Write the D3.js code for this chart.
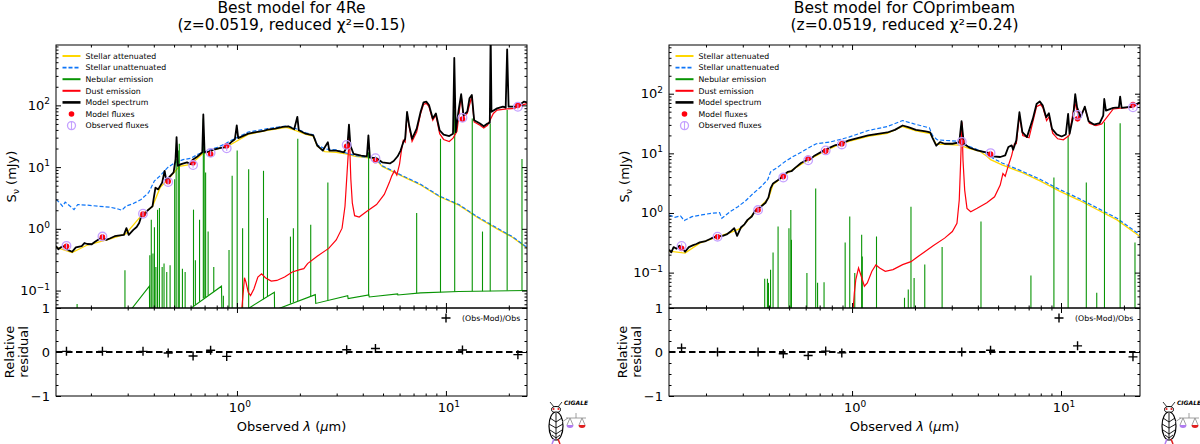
<!DOCTYPE html>
<html>
<head>
<meta charset="utf-8">
<script src="https://cdn.jsdelivr.net/npm/d3@7"></script>
<style>
  body { margin: 0; background: #fff; }
  text { font-family: "DejaVu Sans", sans-serif; }
</style>
</head>
<body>
<script>
// Dos paneles tipo CIGALE: espectro del mejor modelo + residuos relativos.
const WIDTH = 1200;
const HEIGHT = 444;
const TOP = 45, MID = 308, BOTTOM = 396;

const COLORS = {
  att: "#ffd700",
  unatt: "#0d75f8",
  neb: "#089404",
  dust: "#ff000d",
  model: "#000000",
  obs: "#c4a0ff",
};

// Longitudes de onda observadas de los filtros (µm)
const filterWave = [0.1528, 0.2271, 0.3551, 0.4686, 0.6166, 0.7480, 0.8932, 3.35, 4.60, 12.0, 22.1];

// Panel izquierdo (4Re): flujos en mJy
const obsFluxL = [0.53, 0.75, 1.76, 5.74, 10.8, 17.0, 20.2, 22.9, 13.9, 62.8, 95];
const obsErrL = [0.05, 0.07, 0.17, 0.55, 1.0, 1.6, 1.9, 2.2, 1.3, 6.0, 9.0];
const modFluxL = [0.522, 0.739, 1.73, 5.87, 11.8, 16.3, 22.2, 21.8, 12.8, 60.0, 100.7];
const residL = [0.015, 0.015, 0.015, -0.023, -0.09, 0.04, -0.10, 0.05, 0.08, 0.045, -0.06];

// Panel derecho (COprimbeam)
const obsFluxR = [0.28, 0.40, 1.12, 3.93, 7.65, 11.2, 14.1, 15.6, 10.1, 44.1, 59.1];
const obsErrR = [0.03, 0.04, 0.11, 0.38, 0.75, 1.1, 1.4, 1.5, 1.0, 4.4, 6.0];
const modFluxR = [0.255, 0.40, 1.12, 4.09, 8.26, 11.0, 14.4, 15.6, 9.7, 37.9, 65.6];
const residR = [0.09, 0.0, 0.0, -0.04, -0.08, 0.02, -0.02, 0.0, 0.04, 0.14, -0.11];

// Espectros: [log10 λ(µm), log10 Sν(mJy)]
const modelL = [[-0.866,-0.279],[-0.855,-0.330],[-0.844,-0.301],[-0.826,-0.279],[-0.807,-0.344],[-0.789,-0.372],[-0.771,-0.301],[-0.743,-0.279],[-0.730,-0.230],[-0.716,-0.246],[-0.695,-0.250],[-0.679,-0.208],[-0.646,-0.137],[-0.625,-0.180],[-0.606,-0.153],[-0.585,-0.120],[-0.569,-0.109],[-0.541,-0.098],[-0.529,0.011],[-0.518,-0.098],[-0.496,-0.016],[-0.480,0.030],[-0.468,0.093],[-0.454,0.246],[-0.440,0.230],[-0.432,0.284],[-0.413,0.339],[-0.404,0.366],[-0.398,0.500],[-0.390,0.667],[-0.377,0.639],[-0.358,0.749],[-0.346,0.940],[-0.338,0.776],[-0.322,0.847],[-0.303,0.913],[-0.294,1.131],[-0.289,1.486],[-0.283,1.022],[-0.267,1.049],[-0.239,1.077],[-0.221,1.049],[-0.212,1.120],[-0.194,1.158],[-0.175,1.213],[-0.166,1.240],[-0.161,1.852],[-0.155,1.240],[-0.133,1.251],[-0.111,1.284],[-0.083,1.306],[-0.051,1.322],[-0.029,1.400],[-0.010,1.450],[-0.001,1.677],[0.006,1.470],[0.054,1.541],[0.091,1.568],[0.127,1.585],[0.146,1.607],[0.182,1.623],[0.219,1.650],[0.246,1.661],[0.274,1.612],[0.289,1.814],[0.296,1.596],[0.329,1.541],[0.365,1.514],[0.384,1.350],[0.411,1.268],[0.435,1.404],[0.442,1.268],[0.475,1.268],[0.512,1.240],[0.521,1.295],[0.530,1.404],[0.536,1.689],[0.543,1.350],[0.558,1.213],[0.594,1.186],[0.622,1.175],[0.629,1.514],[0.636,1.158],[0.668,1.142],[0.695,1.077],[0.732,1.060],[0.750,1.098],[0.769,1.175],[0.783,1.268],[0.796,1.404],[0.805,1.459],[0.814,1.896],[0.824,1.677],[0.838,1.459],[0.860,1.623],[0.879,1.896],[0.893,2.049],[0.906,2.060],[0.919,2.005],[0.937,1.787],[0.952,1.869],[0.970,1.596],[0.989,1.525],[1.016,1.503],[1.034,1.541],[1.040,2.770],[1.047,1.568],[1.062,1.951],[1.073,2.180],[1.084,1.841],[1.102,1.896],[1.113,2.115],[1.124,2.169],[1.135,1.760],[1.163,1.705],[1.181,1.661],[1.199,1.705],[1.210,1.720],[1.214,3.200],[1.218,1.896],[1.245,1.951],[1.273,1.978],[1.286,1.962],[1.293,2.907],[1.300,1.978],[1.328,1.978],[1.355,2.016],[1.373,2.060],[1.388,2.049]];

const unattL = [[-0.866,0.475],[-0.848,0.421],[-0.835,0.366],[-0.822,0.432],[-0.798,0.366],[-0.780,0.311],[-0.762,0.393],[-0.716,0.383],[-0.661,0.366],[-0.606,0.350],[-0.569,0.322],[-0.551,0.301],[-0.532,0.366],[-0.496,0.410],[-0.459,0.475],[-0.423,0.585],[-0.395,0.776],[-0.368,0.858],[-0.331,0.995],[-0.294,1.077],[-0.258,1.120],[-0.221,1.142],[-0.184,1.213],[-0.138,1.268],[-0.093,1.322],[-0.056,1.377],[-0.029,1.430],[0.054,1.568],[0.146,1.623],[0.237,1.667],[0.274,1.634],[0.329,1.557],[0.365,1.525],[0.384,1.361],[0.420,1.295],[0.475,1.279],[0.521,1.230],[0.567,1.186],[0.622,1.158],[0.664,1.142],[0.695,1.022],[0.787,0.869],[0.879,0.721],[0.970,0.530],[1.062,0.393],[1.153,0.191],[1.245,0.011],[1.318,-0.126],[1.388,-0.301]];

const attL = [[-0.866,-0.301],[-0.789,-0.383],[-0.716,-0.262],[-0.606,-0.164],[-0.532,-0.082],[-0.454,0.229],[-0.404,0.366],[-0.368,0.667],[-0.322,0.831],[-0.276,1.011],[-0.221,1.044],[-0.166,1.213],[-0.093,1.295],[-0.029,1.366],[0.054,1.530],[0.146,1.596],[0.237,1.645],[0.274,1.601],[0.329,1.530],[0.365,1.503],[0.384,1.339],[0.420,1.251],[0.475,1.240],[0.521,1.213],[0.567,1.175],[0.622,1.153],[0.664,1.131],[0.695,1.011],[0.787,0.858],[0.879,0.710],[0.970,0.519],[1.062,0.383],[1.153,0.180],[1.245,0.000],[1.318,-0.137],[1.388,-0.312]];

const dustL = [[0.021,-1.383],[0.028,-1.109],[0.036,-0.792],[0.043,-0.863],[0.054,-1.027],[0.065,-1.082],[0.081,-0.973],[0.100,-0.781],[0.118,-0.727],[0.136,-0.792],[0.164,-0.847],[0.191,-0.836],[0.228,-0.781],[0.265,-0.699],[0.301,-0.661],[0.320,-0.645],[0.338,-0.563],[0.384,-0.443],[0.439,-0.317],[0.475,-0.180],[0.503,0.011],[0.517,0.366],[0.527,0.913],[0.534,1.295],[0.536,1.650],[0.540,1.295],[0.545,0.803],[0.552,0.421],[0.563,0.213],[0.585,0.191],[0.622,0.284],[0.668,0.393],[0.705,0.557],[0.729,0.749],[0.741,0.858],[0.754,0.940],[0.765,0.869],[0.778,1.049],[0.787,1.268],[0.796,1.432],[0.805,1.404],[0.814,1.869],[0.824,1.650],[0.838,1.415],[0.860,1.568],[0.879,1.869],[0.893,2.016],[0.906,2.033],[0.919,1.978],[0.937,1.760],[0.952,1.841],[0.970,1.541],[0.989,1.448],[1.016,1.415],[1.034,1.470],[1.053,1.579],[1.073,2.158],[1.084,1.814],[1.102,1.869],[1.124,2.148],[1.135,1.732],[1.163,1.678],[1.181,1.634],[1.199,1.678],[1.227,1.869],[1.245,1.923],[1.282,1.940],[1.328,1.951],[1.355,1.995],[1.388,2.027]];

const nebContL = [[-0.587,-1.82],[-0.505,-1.300],[-0.419,-0.929],[-0.417,-1.765],[-0.226,-1.300],[-0.074,-0.929],[-0.071,-1.563],[0.050,-1.300],[0.179,-1.027],[0.180,-1.317],[0.375,-1.066],[0.377,-1.208],[0.530,-1.082],[0.532,-1.131],[0.631,-1.071],[0.633,-1.104],[0.769,-1.055],[0.770,-1.071],[0.879,-1.038],[1.062,-1.016],[1.388,-0.999]];

// Líneas nebulares: [log10 λ, log10 base, log10 pico]
const nebLinesL = [[-0.765,-1.8,-1.219],[-0.536,-1.8,-0.672],[-0.417,-1.8,-0.426],[-0.410,-1.8,0.148],[-0.402,-1.8,-0.399],[-0.395,-1.8,0.027],[-0.388,-1.8,-0.617],[-0.380,-1.8,0.311],[-0.371,-1.8,0.339],[-0.358,-1.8,-0.617],[-0.349,-1.8,-0.563],[-0.336,-1.8,-0.699],[-0.320,-1.8,-0.590],[-0.298,-1.8,0.803],[-0.291,-1.8,1.131],[-0.281,-1.8,1.268],[-0.276,-1.8,1.377],[-0.261,-1.8,-0.645],[-0.248,-1.8,-0.699],[-0.208,-1.26,0.311],[-0.199,-1.23,-0.508],[-0.179,-1.18,0.148],[-0.161,-1.13,1.787],[-0.157,-1.12,1.295],[-0.150,-1.11,0.913],[-0.138,-1.08,-0.044],[-0.111,-1.02,-0.617],[-0.065,-1.55,-1.082],[-0.038,-1.49,-0.344],[-0.023,-1.46,0.858],[0.001,-1.41,1.268],[0.027,-1.36,0.011],[0.056,-1.29,0.967],[0.127,-1.14,0.940],[0.146,-1.10,0.175],[0.256,-1.21,-0.126],[0.270,-1.19,0.011],[0.291,-1.17,1.459],[0.353,-1.09,0.066],[0.435,-1.16,0.749],[0.630,-1.075,1.240],[0.860,-1.04,0.257],[0.974,-1.03,1.459],[1.042,-1.02,1.923],[1.126,-1.01,1.787],[1.175,-1.01,-0.044],[1.212,-1.01,1.705],[1.293,-1.00,1.923],[1.364,-1.00,1.131]];

const modelR = [[-0.876,-0.616],[-0.865,-0.660],[-0.854,-0.572],[-0.840,-0.600],[-0.827,-0.550],[-0.812,-0.589],[-0.799,-0.650],[-0.781,-0.572],[-0.760,-0.540],[-0.745,-0.520],[-0.729,-0.494],[-0.700,-0.470],[-0.674,-0.427],[-0.651,-0.394],[-0.619,-0.383],[-0.600,-0.360],[-0.583,-0.316],[-0.564,-0.255],[-0.550,-0.383],[-0.531,-0.239],[-0.515,-0.190],[-0.500,-0.116],[-0.480,-0.060],[-0.464,0.039],[-0.436,0.106],[-0.414,0.172],[-0.400,0.261],[-0.390,0.411],[-0.378,0.495],[-0.359,0.539],[-0.339,0.595],[-0.308,0.689],[-0.290,0.700],[-0.271,0.761],[-0.244,0.839],[-0.220,0.884],[-0.200,0.900],[-0.180,0.961],[-0.134,1.050],[-0.106,1.095],[-0.079,1.139],[-0.061,1.150],[-0.015,1.217],[0.031,1.261],[0.077,1.300],[0.123,1.328],[0.169,1.350],[0.205,1.394],[0.242,1.467],[0.269,1.439],[0.306,1.394],[0.352,1.367],[0.374,1.350],[0.385,1.261],[0.403,1.128],[0.421,1.189],[0.443,1.161],[0.480,1.161],[0.513,1.183],[0.524,1.539],[0.535,1.161],[0.563,1.094],[0.599,1.050],[0.636,1.022],[0.654,1.006],[0.673,0.950],[0.709,0.939],[0.733,0.967],[0.748,1.106],[0.764,1.133],[0.771,1.061],[0.786,1.217],[0.801,1.689],[0.815,1.356],[0.837,1.272],[0.865,1.578],[0.883,1.828],[0.898,1.872],[0.913,1.800],[0.929,1.606],[0.942,1.672],[0.957,1.411],[0.979,1.317],[1.003,1.283],[1.023,1.317],[1.034,1.661],[1.041,1.328],[1.059,1.633],[1.068,1.994],[1.077,1.772],[1.094,1.606],[1.114,1.783],[1.132,1.539],[1.158,1.483],[1.185,1.506],[1.202,1.633],[1.207,1.911],[1.215,1.717],[1.250,1.761],[1.277,1.772],[1.283,1.950],[1.290,1.761],[1.338,1.783],[1.378,1.856]];

const unattR = [[-0.876,-0.033],[-0.848,-0.072],[-0.821,-0.050],[-0.803,-0.128],[-0.766,-0.061],[-0.720,-0.033],[-0.674,-0.005],[-0.634,0.006],[-0.623,-0.089],[-0.583,0.022],[-0.546,0.106],[-0.509,0.206],[-0.473,0.328],[-0.436,0.439],[-0.403,0.561],[-0.390,0.689],[-0.354,0.772],[-0.317,0.872],[-0.280,0.950],[-0.244,1.017],[-0.207,1.095],[-0.171,1.161],[-0.106,1.189],[-0.015,1.272],[0.077,1.383],[0.169,1.450],[0.242,1.550],[0.297,1.494],[0.370,1.428],[0.385,1.300],[0.407,1.228],[0.443,1.217],[0.498,1.206],[0.535,1.150],[0.590,1.078],[0.636,1.006],[0.654,0.967],[0.663,0.939],[0.718,0.839],[0.810,0.706],[0.902,0.561],[0.993,0.395],[1.085,0.245],[1.177,0.078],[1.268,-0.089],[1.378,-0.366]];

const attR = [[-0.876,-0.639],[-0.799,-0.672],[-0.729,-0.505],[-0.651,-0.411],[-0.583,-0.328],[-0.531,-0.255],[-0.464,0.022],[-0.400,0.245],[-0.378,0.478],[-0.308,0.672],[-0.220,0.867],[-0.134,1.033],[-0.079,1.122],[-0.015,1.200],[0.077,1.283],[0.169,1.333],[0.242,1.450],[0.306,1.378],[0.374,1.333],[0.403,1.150],[0.443,1.150],[0.513,1.139],[0.563,1.078],[0.609,1.039],[0.645,0.950],[0.663,0.895],[0.718,0.806],[0.810,0.684],[0.902,0.534],[0.993,0.367],[1.085,0.217],[1.177,0.050],[1.268,-0.116],[1.378,-0.394]];

const dustR = [[0.004,-1.672],[0.011,-1.339],[0.018,-1.116],[0.031,-0.922],[0.044,-1.061],[0.059,-1.228],[0.073,-1.172],[0.095,-0.978],[0.114,-0.872],[0.132,-0.922],[0.159,-0.978],[0.196,-0.950],[0.242,-0.866],[0.282,-0.816],[0.306,-0.755],[0.343,-0.661],[0.388,-0.550],[0.443,-0.422],[0.480,-0.311],[0.502,-0.172],[0.513,0.217],[0.520,0.884],[0.526,1.522],[0.531,0.884],[0.539,0.384],[0.550,0.078],[0.568,0.022],[0.599,0.078],[0.645,0.172],[0.682,0.272],[0.709,0.467],[0.722,0.661],[0.733,0.617],[0.746,0.772],[0.764,0.967],[0.777,1.161],[0.786,1.161],[0.801,1.633],[0.817,1.300],[0.847,1.261],[0.883,1.783],[0.902,1.817],[0.914,1.761],[0.931,1.550],[0.944,1.617],[0.960,1.339],[0.984,1.244],[1.011,1.228],[1.039,1.300],[1.066,1.856],[1.085,1.594],[1.114,1.761],[1.136,1.506],[1.167,1.467],[1.195,1.494],[1.250,1.744],[1.296,1.761],[1.338,1.772],[1.378,1.844]];

const nebContR = [];

const nebLinesR = [[-0.418,-1.8,-1.105],[-0.405,-1.8,-1.105],[-0.400,-1.8,-1.172],[-0.390,-1.8,-0.950],[-0.378,-1.8,-0.661],[-0.354,-1.8,-0.227],[-0.302,-1.8,-0.255],[-0.293,-1.8,0.050],[-0.290,-1.8,-0.450],[-0.216,-1.8,-1.005],[-0.174,-1.8,0.411],[-0.165,-1.8,-1.172],[-0.134,-1.8,-1.161],[-0.033,-1.8,-0.494],[-0.011,-1.8,-0.061],[0.013,-1.8,-1.005],[0.046,-1.8,-0.366],[0.049,-1.8,-0.728],[0.117,-1.8,-0.394],[0.251,-1.8,-1.422],[0.269,-1.8,-1.283],[0.282,-1.8,0.106],[0.297,-1.8,-1.089],[0.348,-1.8,-0.866],[0.431,-1.8,-0.572],[0.617,-1.8,-0.144],[0.856,-1.8,-1.050],[0.966,-1.8,0.595],[1.034,-1.8,1.300],[1.121,-1.8,0.511],[1.171,-1.8,-1.339],[1.208,-1.8,1.522],[1.283,-1.8,1.506],[1.354,-1.8,-0.494]];

const legendLabels = ["Stellar attenuated", "Stellar unattenuated", "Nebular emission", "Dust emission", "Model spectrum", "Model fluxes", "Observed fluxes"];

const svg = d3.select("body")
  .append("svg")
  .attr("width", WIDTH)
  .attr("height", HEIGHT);

const panels = [
  {
    id: "L", left: 56, width: 471,
    xDomain: [10 ** -0.866, 10 ** 1.388], yDomain: [0.0522, 950],
    title: "Best model for 4Re", subtitle: "(z=0.0519, reduced χ²=0.15)",
    model: modelL, att: attL, unatt: unattL, dust: dustL, nebCont: nebContL, nebLines: nebLinesL,
    obs: obsFluxL, err: obsErrL, mod: modFluxL, resid: residL,
  },
  {
    id: "R", left: 669, width: 471,
    xDomain: [10 ** -0.876, 10 ** 1.378], yDomain: [0.0255, 656],
    title: "Best model for COprimbeam", subtitle: "(z=0.0519, reduced χ²=0.24)",
    model: modelR, att: attR, unatt: unattR, dust: dustR, nebCont: nebContR, nebLines: nebLinesR,
    obs: obsFluxR, err: obsErrR, mod: modFluxR, resid: residR,
  },
];

const isMajor = v => Math.abs(Math.log10(v) - Math.round(Math.log10(v))) < 1e-6;
const expText = n => String(n).replace("-", "−");

function powLabel(sel, v) {
  const e = Math.round(Math.log10(v));
  sel.text("10");
  sel.append("tspan").attr("font-size", 9).attr("dy", -5.5).text(expText(e));
}

function drawPanel(p) {
  const g = svg.append("g").attr("transform", `translate(${p.left},0)`);
  const w = p.width;
  const x = d3.scaleLog().domain(p.xDomain).range([0, w]);
  const y = d3.scaleLog().domain(p.yDomain).range([MID, TOP]);
  const yRes = d3.scaleLinear().domain([-1, 1]).range([BOTTOM, MID]);

  // clip del área del espectro
  g.append("clipPath").attr("id", "clip" + p.id)
    .append("rect").attr("x", 0).attr("y", TOP).attr("width", w).attr("height", MID - TOP);
  const plot = g.append("g").attr("clip-path", `url(#clip${p.id})`);

  const line = d3.line().x(d => x(10 ** d[0])).y(d => y(10 ** d[1]));

  plot.append("path").datum(p.att).attr("d", line)
    .attr("fill", "none").attr("stroke", COLORS.att).attr("stroke-width", 1.3);
  plot.append("path").datum(p.unatt).attr("d", line)
    .attr("fill", "none").attr("stroke", COLORS.unatt).attr("stroke-width", 1.2)
    .attr("stroke-dasharray", "4,2");
  if (p.nebCont.length) {
    plot.append("path").datum(p.nebCont).attr("d", line)
      .attr("fill", "none").attr("stroke", COLORS.neb).attr("stroke-width", 1.1);
  }
  plot.selectAll(".neb").data(p.nebLines).join("line")
    .attr("class", "neb")
    .attr("x1", d => x(10 ** d[0])).attr("x2", d => x(10 ** d[0]))
    .attr("y1", d => y(10 ** d[1])).attr("y2", d => y(10 ** d[2]))
    .attr("stroke", COLORS.neb).attr("stroke-width", 1.1);
  plot.append("path").datum(p.dust).attr("d", line)
    .attr("fill", "none").attr("stroke", COLORS.dust).attr("stroke-width", 1.2);
  plot.append("path").datum(p.model).attr("d", line)
    .attr("fill", "none").attr("stroke", COLORS.model).attr("stroke-width", 1.8)
    .attr("stroke-linejoin", "round");

  // flujos del modelo y observados
  const pts = filterWave.map((l, i) => ({ l, obs: p.obs[i], err: p.err[i], mod: p.mod[i], res: p.resid[i] }));
  g.selectAll(".mod").data(pts).join("circle")
    .attr("class", "mod")
    .attr("cx", d => x(d.l)).attr("cy", d => y(d.mod)).attr("r", 2.8)
    .attr("fill", COLORS.dust);
  g.selectAll(".err").data(pts).join("line")
    .attr("class", "err")
    .attr("x1", d => x(d.l)).attr("x2", d => x(d.l))
    .attr("y1", d => y(d.obs - d.err)).attr("y2", d => y(d.obs + d.err))
    .attr("stroke", COLORS.obs).attr("stroke-width", 1.1);
  g.selectAll(".obs").data(pts).join("circle")
    .attr("class", "obs")
    .attr("cx", d => x(d.l)).attr("cy", d => y(d.obs)).attr("r", 4.3)
    .attr("fill", "none").attr("stroke", COLORS.obs).attr("stroke-width", 1.3);

  // residuos
  g.append("line")
    .attr("x1", 0).attr("x2", w).attr("y1", yRes(0)).attr("y2", yRes(0))
    .attr("stroke", "#000").attr("stroke-width", 1.8).attr("stroke-dasharray", "6.5,3.5");
  const cross = "M-4.5,0H4.5M0,-4.5V4.5";
  g.selectAll(".res").data(pts).join("path")
    .attr("class", "res")
    .attr("transform", d => `translate(${x(d.l)},${yRes(d.res)})`)
    .attr("d", cross).attr("stroke", "#000").attr("stroke-width", 1.4);

  // marcos
  g.append("rect").attr("x", 0).attr("y", TOP).attr("width", w).attr("height", MID - TOP)
    .attr("fill", "none").attr("stroke", "#000").attr("stroke-width", 1);
  g.append("rect").attr("x", 0).attr("y", MID).attr("width", w).attr("height", BOTTOM - MID)
    .attr("fill", "none").attr("stroke", "#000").attr("stroke-width", 1);

  // ticks hacia adentro en los cuatro lados
  const xt = x.ticks();
  const xMaj = xt.filter(isMajor), xMin = xt.filter(v => !isMajor(v));
  const yt = y.ticks();
  const yMaj = yt.filter(isMajor), yMin = yt.filter(v => !isMajor(v));
  const rMaj = [-1, 0, 1], rMin = [-0.75, -0.5, -0.25, 0.25, 0.5, 0.75];

  const ax = (gen, scale, vals, len, tx, ty) => g.append("g")
    .attr("transform", `translate(${tx},${ty})`)
    .call(gen(scale).tickValues(vals).tickSize(-len).tickFormat(""))
    .call(s => s.select(".domain").remove());

  [[d3.axisTop, TOP], [d3.axisBottom, MID], [d3.axisTop, MID], [d3.axisBottom, BOTTOM]].forEach(([gen, ty]) => {
    ax(gen, x, xMaj, 5, 0, ty);
    ax(gen, x, xMin, 2.5, 0, ty);
  });
  [[d3.axisLeft, 0], [d3.axisRight, w]].forEach(([gen, tx]) => {
    ax(gen, y, yMaj, 5, tx, 0);
    ax(gen, y, yMin, 2.5, tx, 0);
    ax(gen, yRes, rMaj, 5, tx, 0);
    ax(gen, yRes, rMin, 2.5, tx, 0);
  });

  // etiquetas de ticks
  g.selectAll(".ylab").data(yMaj).join("text")
    .attr("class", "ylab")
    .attr("x", -6).attr("y", d => y(d) + 4.5)
    .attr("text-anchor", "end").attr("font-size", 13)
    .each(function (d) { powLabel(d3.select(this), d); });
  g.selectAll(".rlab").data(rMaj).join("text")
    .attr("class", "rlab")
    .attr("x", -6).attr("y", d => yRes(d) + 4.5)
    .attr("text-anchor", "end").attr("font-size", 13)
    .text(d => (d < 0 ? "−" + Math.abs(d) : String(d)));
  g.selectAll(".xlab").data(xMaj).join("text")
    .attr("class", "xlab")
    .attr("x", d => x(d) + 3).attr("y", 412)
    .attr("text-anchor", "middle").attr("font-size", 13)
    .each(function (d) { powLabel(d3.select(this), d); });

  // títulos y nombres de ejes
  g.append("text").attr("x", w / 2).attr("y", 13).attr("text-anchor", "middle")
    .attr("font-size", 15.5).text(p.title);
  g.append("text").attr("x", w / 2).attr("y", 30).attr("text-anchor", "middle")
    .attr("font-size", 15.5).text(p.subtitle);

  const xl = g.append("text").attr("x", w / 2).attr("y", 431).attr("text-anchor", "middle").attr("font-size", 13);
  xl.append("tspan").text("Observed ");
  xl.append("tspan").attr("font-style", "italic").text("λ");
  xl.append("tspan").text(" (");
  xl.append("tspan").attr("font-style", "italic").text("µ");
  xl.append("tspan").text("m)");

  const yl = g.append("text").attr("transform", `translate(-40,${(TOP + MID) / 2}) rotate(-90)`)
    .attr("text-anchor", "middle").attr("font-size", 13);
  yl.append("tspan").text("S");
  yl.append("tspan").attr("font-size", 9).attr("dy", 3).text("ν");
  yl.append("tspan").attr("dy", -3).text(" (mJy)");

  const rl = g.append("text").attr("transform", `translate(-41,${(MID + BOTTOM) / 2}) rotate(-90)`)
    .attr("text-anchor", "middle").attr("font-size", 13);
  rl.append("tspan").attr("x", 0).attr("dy", -1).text("Relative");
  rl.append("tspan").attr("x", 0).attr("dy", 14).text("residual");

  // leyenda del panel superior
  const lg = g.append("g").attr("font-size", 7.8);
  legendLabels.forEach((lab, i) => {
    const yy = 56 + i * 11.6;
    const x0 = 6.5, x1 = 24.5;
    if (i === 0) lg.append("line").attr("x1", x0).attr("x2", x1).attr("y1", yy).attr("y2", yy).attr("stroke", COLORS.att).attr("stroke-width", 2);
    if (i === 1) lg.append("line").attr("x1", x0).attr("x2", x1).attr("y1", yy).attr("y2", yy).attr("stroke", COLORS.unatt).attr("stroke-width", 1.8).attr("stroke-dasharray", "4,2");
    if (i === 2) lg.append("line").attr("x1", x0).attr("x2", x1).attr("y1", yy).attr("y2", yy).attr("stroke", COLORS.neb).attr("stroke-width", 2);
    if (i === 3) lg.append("line").attr("x1", x0).attr("x2", x1).attr("y1", yy).attr("y2", yy).attr("stroke", COLORS.dust).attr("stroke-width", 2);
    if (i === 4) lg.append("line").attr("x1", x0).attr("x2", x1).attr("y1", yy).attr("y2", yy).attr("stroke", "#000").attr("stroke-width", 2.6);
    if (i === 5) lg.append("circle").attr("cx", (x0 + x1) / 2).attr("cy", yy).attr("r", 2.8).attr("fill", COLORS.dust);
    if (i === 6) {
      lg.append("line").attr("x1", (x0 + x1) / 2).attr("x2", (x0 + x1) / 2).attr("y1", yy - 4).attr("y2", yy + 4).attr("stroke", COLORS.obs).attr("stroke-width", 1.1);
      lg.append("circle").attr("cx", (x0 + x1) / 2).attr("cy", yy).attr("r", 4).attr("fill", "none").attr("stroke", COLORS.obs).attr("stroke-width", 1.3);
    }
    lg.append("text").attr("x", 29.5).attr("y", yy + 2.8).text(lab);
  });

  // leyenda de residuos
  g.append("path").attr("transform", "translate(390,318)").attr("d", cross).attr("stroke", "#000").attr("stroke-width", 1.4);
  g.append("text").attr("x", 406).attr("y", 321).attr("font-size", 7.8).text("(Obs-Mod)/Obs");

  drawLogo(p.left + w + 29);
}

// Logo CIGALE aproximado (cigarra + balanza)
function drawLogo(cx) {
  const lg = svg.append("g").attr("transform", `translate(${cx},0)`)
    .attr("fill", "none").attr("stroke", "#000");
  lg.append("path").attr("d", "M-2,407L-6,402M2,407L6,402").attr("stroke-width", 0.8);
  lg.append("ellipse").attr("cx", 0).attr("cy", 409.5).attr("rx", 4.5).attr("ry", 3)
    .attr("fill", "#fff").attr("stroke-width", 1);
  lg.append("circle").attr("cx", -2.5).attr("cy", 409).attr("r", 1.1).attr("fill", "#e02020").attr("stroke", "none");
  lg.append("circle").attr("cx", 2.5).attr("cy", 409).attr("r", 1.1).attr("fill", "#e02020").attr("stroke", "none");
  lg.append("ellipse").attr("cx", 0).attr("cy", 426).attr("rx", 7).attr("ry", 14)
    .attr("fill", "#fff").attr("stroke-width", 1.2);
  lg.append("path").attr("d", "M0,413V439M-6,418L0,422L6,418M-7,424L0,428L7,424M-6,430L0,434L6,430M-4,435L0,438L4,435")
    .attr("stroke-width", 0.9);
  lg.append("path").attr("d", "M-2,439L-4,444").attr("stroke", "#b07cf0").attr("stroke-width", 1.5);
  lg.append("path").attr("d", "M2,439L4,444").attr("stroke", "#e02020").attr("stroke-width", 1.5);
  lg.append("path").attr("d", "M6,422L12,418M10,418L30,418M20,413V418M14,418L11,425M14,418L17,425M26,418L23,425M26,418L29,425")
    .attr("stroke", "#888").attr("stroke-width", 0.8);
  lg.append("path").attr("d", "M10.5,425A3.5,3 0 0 0 17.5,425Z").attr("fill", "#b07cf0").attr("stroke", "none");
  lg.append("path").attr("d", "M22.5,425A3.5,3 0 0 0 29.5,425Z").attr("fill", "#e02020").attr("stroke", "none");
  svg.append("text").attr("x", cx + 20).attr("y", 405).attr("text-anchor", "middle")
    .attr("font-size", 6).attr("font-weight", "bold").attr("font-style", "italic").text("CIGALE");
}

panels.forEach(drawPanel);
</script>
</body>
</html>
